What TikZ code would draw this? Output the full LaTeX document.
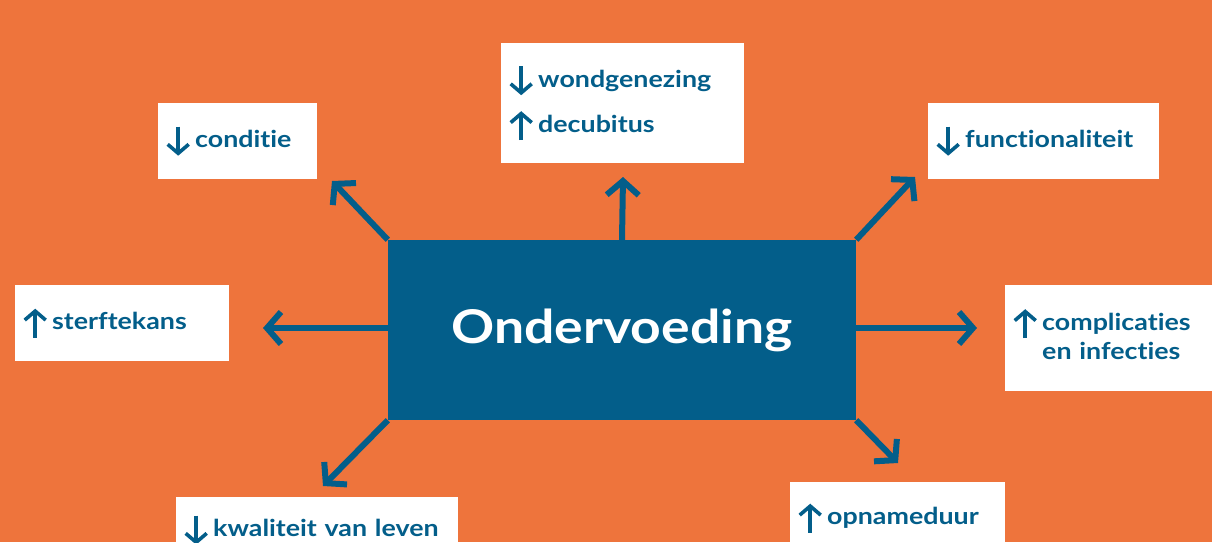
\documentclass[tikz,border=0pt]{standalone}
\usepackage{fontspec}
\setmainfont{Lato}[Ligatures=NoCommon, FakeStretch=1.15]
\usetikzlibrary{
  arrows.meta,
  positioning,
}
\definecolor{ovorange}{RGB}{238,116,60}
\definecolor{ovblue}{RGB}{3,94,138}
\tikzset{
  lbl/.style 2 args = {fill=white, text=ovblue, anchor=north west,
      align=left, inner xsep=8pt, inner ysep=0pt,
      font=\fontsize{23.3}{29}\selectfont\bfseries,
      text width=#1, minimum height=#2},
  main/.style = {fill=ovblue, text=white, inner sep=0pt,
      minimum width=468pt, minimum height=180pt,
      font=\fontsize{46.5}{56}\selectfont\bfseries},
  link/.style = {draw=ovblue, line width=6pt,
      -{Straight Barb[length=14pt, width=32pt]}},
  glyph/.style = {draw=ovblue, line width=3.6pt,
      -{Straight Barb[length=9pt, width=21pt]}},
}
% small up and down arrows in front of the labels
\newcommand{\up}{\tikz[baseline=0pt]{\useasboundingbox (-12pt,-8pt) rectangle (12pt,21pt);
  \draw[glyph] (0pt,-8pt) -- (0pt,21pt);}\hspace{5pt}}
\newcommand{\dn}{\tikz[baseline=0pt]{\useasboundingbox (-12pt,-8pt) rectangle (12pt,21pt);
  \draw[glyph] (0pt,21pt) -- (0pt,-8pt);}\hspace{5pt}}

\begin{document}
\begin{tikzpicture}[x=1pt, y=-1pt]
  \fill[ovorange] (0,0) rectangle (1212,542);
  \useasboundingbox (0,0) rectangle (1212,542);

  % label boxes
  \node[lbl={143pt}{76pt}] (cond) at (158,103) {\dn conditie};
  \node[lbl={227pt}{120pt}] (wond) at (501,43)
    {\dn wondgenezing\\[16pt]\up decubitus};
  \node[lbl={215pt}{76pt}] (func) at (928,103) {\dn functionaliteit};
  \node[lbl={198pt}{76pt}] (sterf) at (15,285) {\up sterftekans};
  \node[lbl={208pt}{106pt}] (compl) at (1005,285)
    {\up complicaties\\\phantom{\up}en infecties};
  \node[lbl={266pt}{66pt}] (kwal) at (176,497) {\dn kwaliteit van leven};
  \node[lbl={199pt}{72pt}] (opname) at (790,482) {\up opnameduur};

  % centre
  \node[main] (ov) at (622,330) {Ondervoeding};

  \coordinate (tl) at (332,181);
  \coordinate (tc) at (623,177);
  \coordinate (tr) at (915,177);
  \coordinate (rc) at (977,328);
  \coordinate (br) at (898,463);
  \coordinate (bl) at (323,486);
  \coordinate (lc) at (263,328);

  \draw[link] (ov.north west) -- (tl);
  \draw[link] (ov.north) -- (tc);
  \draw[link] (ov.north east) -- (tr);
  \draw[link] (ov.east |- rc) -- (rc);
  \draw[link] (ov.south east) -- (br);
  \draw[link] (ov.south west) -- (bl);
  \draw[link] (ov.west |- lc) -- (lc);
\end{tikzpicture}
\end{document}
